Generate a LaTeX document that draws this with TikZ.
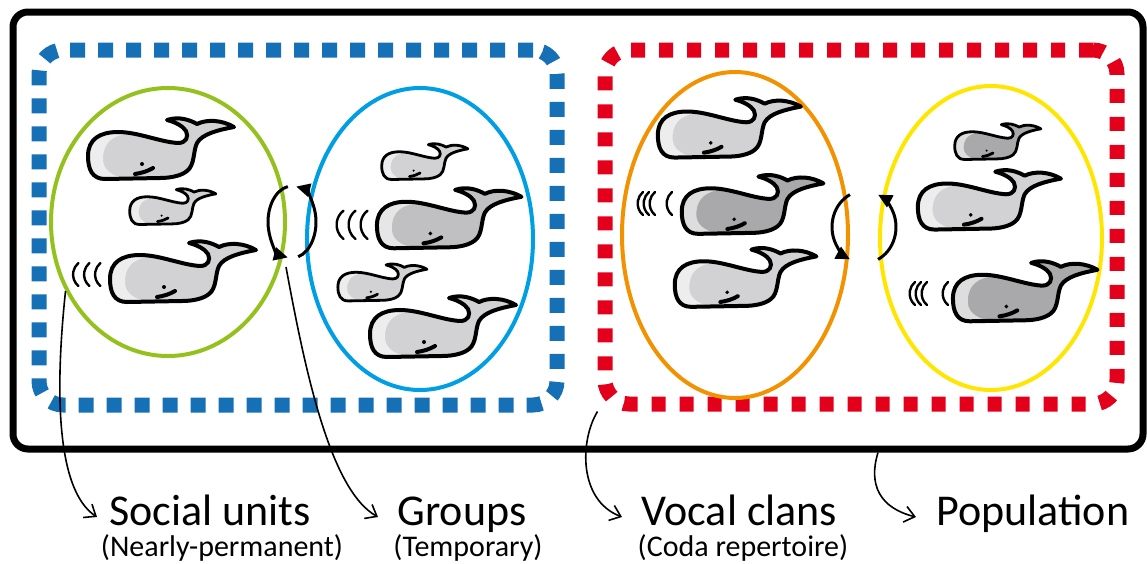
\documentclass[tikz,border=0pt]{standalone}
\usepackage{fontspec}
\setmainfont{Carlito}
\usepackage{tikz}
\usetikzlibrary{positioning,shapes.geometric,arrows.meta}

\definecolor{unitgreen}{RGB}{149,193,31}
\definecolor{groupblue}{RGB}{0,159,227}
\definecolor{clanorange}{RGB}{243,146,0}
\definecolor{popyellow}{RGB}{255,230,0}
\definecolor{socialblue}{RGB}{22,112,182}
\definecolor{vocalred}{RGB}{226,0,26}
\definecolor{whalelight}{RGB}{210,210,212}
\definecolor{whalemid}{RGB}{192,192,194}
\definecolor{whaledark}{RGB}{169,169,171}

% outline of one whale, head on the left, about 145 x 58 units
\def\whalebody{(8,49) .. controls (8,32) and (20,25) .. (38,25)
  .. controls (58,25) and (80,35) .. (98,36)
  .. controls (106,36) and (109,30) .. (106,24)
  .. controls (103,19) and (95,15) .. (87,13)
  .. controls (99,9) and (110,13) .. (117,17)
  .. controls (127,12) and (142,13) .. (154,20)
  .. controls (138,23) and (122,27) .. (117,36)
  .. controls (113,44) and (115,58) .. (107,64)
  .. controls (101,69) and (90,71) .. (80,71)
  -- (25,72) .. controls (12,72) and (8,62) .. (8,49) -- cycle}

\tikzset{
  ring/.style={ellipse, draw, line width=2pt, inner sep=0pt},
  dashbox/.style={rectangle, draw, rounded corners=12pt, line width=7.5pt, dash pattern=on 7.5pt off 6.5pt, inner sep=0pt},
  lbl/.style={font=\fontsize{22}{26}\selectfont, inner sep=0pt},
  sublbl/.style={font=\fontsize{15}{18}\selectfont, inner sep=0pt},
  pointer/.style={line width=0.8pt, -{Straight Barb[length=5pt,width=8pt]}},
  swap/.style={line width=1.5pt, -{Triangle[length=7pt,width=6.5pt]}},
  wave/.style={line width=1.2pt, line cap=round},
  pics/whale/.style={code={
      \fill[#1] \whalebody;
      \begin{scope}
        \clip \whalebody;
        \fill[#1!40!white] (0,0) -- (45,0) -- (45,27) .. controls (28,30) and (23,40) .. (23,52)
          .. controls (23,62) and (30,68) .. (45,72) -- (45,80) -- (0,80) -- cycle;
      \end{scope}
      \draw[line join=round] \whalebody;
      \fill (62,57) circle[radius=2];
      \draw[line cap=round] (55,67) .. controls (62,66) and (68,64) .. (73,61);
  }},
}

\begin{document}
\begin{tikzpicture}[x=0.5pt, y=-0.5pt]
    \useasboundingbox (0,0) rectangle (1147,563);

    \node[draw, rounded corners=7.5pt, line width=3.5pt, inner sep=0pt, minimum width=565pt, minimum height=218.5pt] (pop) at (578,230.5) {}; % population frame
    \node[dashbox, draw=socialblue] (social) at (298,227.5) [minimum width=259pt, minimum height=177.5pt] {}; % units + groups
    \node[dashbox, draw=vocalred, dash pattern=on 7pt off 7pt] (clans) at (861,227) [minimum width=256pt, minimum height=177pt] {}; % vocal clans

    \node[ring, draw=unitgreen, minimum width=117pt, minimum height=134pt] (units) at (168,222) {};
    \node[ring, draw=groupblue, minimum width=113pt, minimum height=151pt] (groups) at (420,239) {};
    \node[ring, draw=clanorange, minimum width=113pt, minimum height=163pt] (clanA) at (735,235) {};
    \node[ring, draw=popyellow, minimum width=111pt, minimum height=152pt] (clanB) at (991,238) {};

    % whales, social unit
    \pic[line width=2pt] (w1) at (80,107) {whale=whalelight};
    \pic[scale=0.59, line width=1.4pt] (w2) at (125,182) {whale=whalelight};
    \pic[line width=2pt] (w3) at (102,230) {whale=whalelight};
    % whales, group
    \pic[scale=0.59, line width=1.4pt] (w4) at (377,137) {whale=whalelight};
    \pic[scale=0.99, line width=2pt] (w5) at (369,177) {whale=whalemid};
    \pic[scale=0.61, line width=1.4pt] (w6) at (333,257) {whale=whalelight};
    \pic[line width=2pt] (w7) at (362,285) {whale=whalelight};
    % whales, first clan
    \pic[scale=0.98, line width=2pt] (w8) at (650,87) {whale=whalelight};
    \pic[scale=0.97, line width=2pt] (w9) at (674,164) {whale=whaledark};
    \pic[scale=0.97, line width=2pt] (w10) at (667,237) {whale=whalelight};
    % whales, second clan
    \pic[scale=0.59, line width=1.4pt] (w11) at (950,117) {whale=whaledark};
    \pic[scale=0.98, line width=2pt] (w12) at (910,159) {whale=whalelight};
    \pic[scale=0.99, line width=2pt] (w13) at (945,250) {whale=whaledark};

    % calls
    \foreach \x in {73,84,95}
        \draw[wave] (\x+5.4,286) arc[start angle=130, end angle=230, radius=15];
    \foreach \x in {337,349,361}
        \draw[wave] (\x+6.5,239) arc[start angle=128, end angle=232, radius=18];
    \foreach \x in {638,644,650,667}
        \draw[wave] (\x+5,215) arc[start angle=130, end angle=230, radius=15];
    \foreach \x in {910,916,922,943}
        \draw[wave] (\x+5,305) arc[start angle=130, end angle=230, radius=15];

    % exchange between units and between clans
    \coordinate (mixA) at (292,222);
    \coordinate (mixB) at (864,227);
    \coordinate (mixfoot) at (286,267);
    \draw[swap] ([shift={(260:24 and 36)}]mixA) arc[start angle=260, end angle=100, x radius=24, y radius=36];
    \draw[swap] ([shift={(75:24 and 36)}]mixA) arc[start angle=75, end angle=-80, x radius=24, y radius=36];
    \draw[swap] ([shift={(244:32 and 36)}]mixB) arc[start angle=244, end angle=116, x radius=32, y radius=36];
    \draw[swap] ([shift={(64:32 and 36)}]mixB) arc[start angle=64, end angle=-64, x radius=32, y radius=36];

    \node[lbl, anchor=base west] (unitslbl) at (109,525) {Social units};
    \node[sublbl, anchor=base] (unitsnote) at (222,556) {(Nearly-permanent)};
    \node[lbl, anchor=base west] (groupslbl) at (397,525) {Groups};
    \node[sublbl, anchor=base] (groupsnote) at (468,556) {(Temporary)};
    \node[lbl, anchor=base west] (clanslbl) at (641,525) {Vocal clans};
    \node[sublbl, anchor=base] (clansnote) at (743,556) {(Coda repertoire)};
    \node[lbl, anchor=base west] (poplbl) at (936,525) {Population};

    \draw[pointer] (units.214) .. controls (55,390) and (56,490) .. ([xshift=-6pt,yshift=4pt]unitslbl.base west);
    \draw[pointer] (mixfoot) .. controls (305,370) and (330,490) .. ([xshift=-9.5pt,yshift=4pt]groupslbl.base west);
    \draw[pointer] (clans.south west) .. controls (580,440) and (578,500) .. ([xshift=-9.5pt,yshift=4pt]clanslbl.base west);
    \draw[pointer] ([xshift=150pt]pop.south) .. controls (868,485) and (880,508) .. ([xshift=-10pt,yshift=4pt]poplbl.base west);
\end{tikzpicture}
\end{document}
